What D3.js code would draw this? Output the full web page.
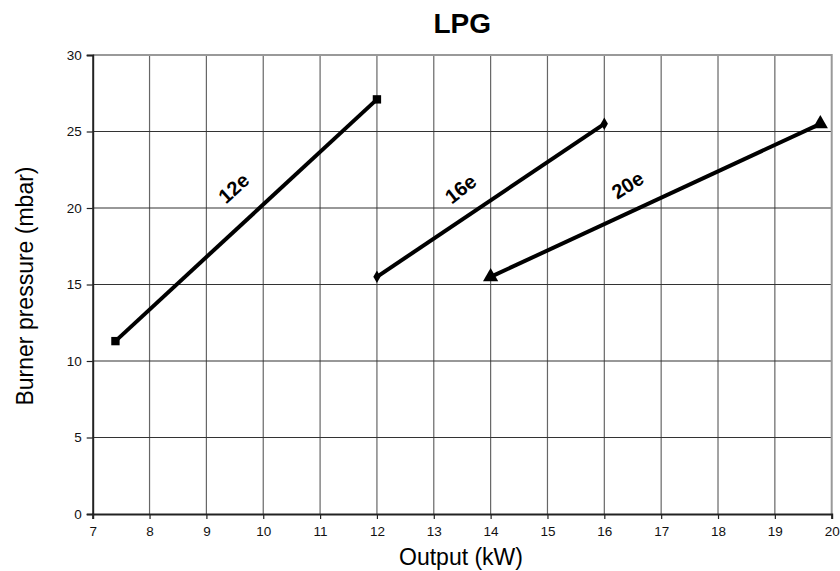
<!DOCTYPE html>
<html><head><meta charset="utf-8">
<script src="https://cdn.jsdelivr.net/npm/d3@7"></script>
<style>body{margin:0;background:#fff}svg{display:block}text{font-family:"Liberation Sans",Arial,sans-serif}</style>
</head><body>
<svg id="c" width="840" height="571"></svg>
<script>
const xTicks = [7,8,9,10,11,12,13,14,15,16,17,18,19,20];
const yTicks = [0,5,10,15,20,25,30];
const seriesNames = ["12e","16e","20e"];
const s12e = [[7.4,11.3],[12,27.1]];
const s16e = [[12,15.5],[16,25.5]];
const s20e = [[14,15.5],[19.8,25.5]];
const markerTypes = ["square","diamond","triangle"];
const labelPos = [[9.48,21.3,-42],[13.47,21.25,-38],[16.41,21.5,-32]]; // [x, y, angle]

const svg = d3.select("#c");
const m = {l:92.7, r:831.7, t:55, b:514};
const x = d3.scaleLinear().domain([7,20]).range([m.l,m.r]);
const y = d3.scaleLinear().domain([0,30]).range([m.b,m.t]);

svg.append("g").selectAll("line").data(xTicks.slice(1,-1)).join("line")
  .attr("x1",d=>x(d)).attr("x2",d=>x(d)).attr("y1",m.t).attr("y2",m.b)
  .attr("stroke","#666").attr("stroke-width",1.2);
svg.append("g").selectAll("line").data(yTicks.slice(1,-1)).join("line")
  .attr("x1",m.l).attr("x2",m.r).attr("y1",d=>y(d)).attr("y2",d=>y(d))
  .attr("stroke","#333").attr("stroke-width",1.2);
svg.append("path").attr("d",`M${m.l},${m.t}H${m.r}V${m.b}`).attr("fill","none")
  .attr("stroke","#999").attr("stroke-width",2);

const xa = svg.append("g").attr("transform",`translate(0,${m.b})`)
  .call(d3.axisBottom(x).tickValues(xTicks).tickSize(5).tickPadding(7).tickFormat(d3.format("d")));
const ya = svg.append("g").attr("transform",`translate(${m.l},0)`)
  .call(d3.axisLeft(y).tickValues(yTicks).tickSize(6).tickPadding(5).tickFormat(d3.format("d")));
[xa,ya].forEach(a=>{a.select(".domain").attr("stroke","#222").attr("stroke-width",2);
  a.selectAll(".tick line").attr("stroke","#222").attr("stroke-width",1.2);
  a.selectAll("text").attr("font-size",13.5).attr("fill","#111").attr("font-family",null);});

const line = d3.line().x(d=>x(d[0])).y(d=>y(d[1]));
const allSeries = [s12e,s16e,s20e];
allSeries.forEach((s,i)=>{
  svg.append("path").datum(s).attr("d",line).attr("fill","none")
    .attr("stroke","#000").attr("stroke-width",4);
  const sym = markerTypes[i]==="square"?d3.symbolSquare:markerTypes[i]==="diamond"?d3.symbolDiamond:d3.symbolTriangle;
  const size = markerTypes[i]==="square"?70:markerTypes[i]==="diamond"?45:100;
  svg.append("g").selectAll("path").data(s).join("path")
    .attr("transform",d=>`translate(${x(d[0])},${y(d[1])})`)
    .attr("d",d3.symbol().type(sym).size(size)).attr("fill","#000");
  const lp = labelPos[i];
  svg.append("text").attr("transform",`translate(${x(lp[0])},${y(lp[1])}) rotate(${lp[2]})`)
    .attr("text-anchor","middle").attr("dominant-baseline","central")
    .attr("font-weight","bold").attr("font-size",20).text(seriesNames[i]);
});

svg.append("text").attr("x",(m.l+m.r)/2).attr("y",33).attr("text-anchor","middle")
  .attr("font-weight","bold").attr("font-size",28).text("LPG");
svg.append("text").attr("x",461).attr("y",565).attr("text-anchor","middle")
  .attr("font-size",23).text("Output (kW)");
svg.append("text").attr("transform",`translate(33,286) rotate(-90)`).attr("text-anchor","middle")
  .attr("font-size",23).text("Burner pressure (mbar)");
</script>
</body></html>
